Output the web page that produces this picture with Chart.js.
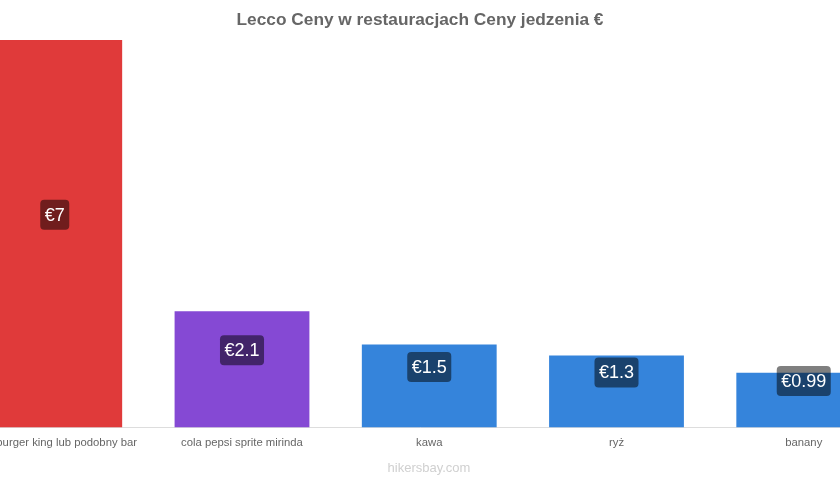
<!DOCTYPE html>
<html>
<head>
<meta charset="utf-8">
<script src="https://cdn.jsdelivr.net/npm/chart.js@4.4.1/dist/chart.umd.min.js"></script>
<style>
    html, body { margin: 0; padding: 0; background: #ffffff; }
    #wrap { width: 840px; height: 480px; }
</style>
</head>
<body>
<div id="wrap"><canvas id="chart"></canvas></div>
<script>
const categories = ['Tani burger king lub podobny bar', 'cola pepsi sprite mirinda', 'kawa', 'ryż', 'banany'];
const prices = [7, 2.1, 1.5, 1.3, 0.99];
const priceLabels = ['€7', '€2.1', '€1.5', '€1.3', '€0.99'];
const barColors = ['#e03a3a', '#8549d4', '#3584db', '#3584db', '#3584db'];

// labels in a dark box, a bit above the middle of each bar
const barLabels = {
    id: 'barLabels',
    afterDatasetsDraw(chart) {
        const ctx = chart.ctx;
        const meta = chart.getDatasetMeta(0);
        ctx.save();
        ctx.font = '18px "Liberation Sans", Arial, sans-serif';
        ctx.textAlign = 'center';
        ctx.textBaseline = 'middle';
        meta.data.forEach((bar, i) => {
            const text = priceLabels[i];
            const cx = bar.x;
            const cy = (bar.y + bar.base) / 2 - 19;
            const w = ctx.measureText(text).width + 9;
            const h = 30;
            ctx.fillStyle = 'rgba(0, 0, 0, 0.5)';
            ctx.beginPath();
            ctx.roundRect(cx - w / 2, cy - h / 2, w, h, 4);
            ctx.fill();
            ctx.fillStyle = '#ffffff';
            ctx.fillText(text, cx, cy + 1);
        });
        ctx.restore();
    }
};

const watermark = {
    id: 'watermark',
    afterDraw(chart) {
        const ctx = chart.ctx;
        ctx.save();
        ctx.font = '13px "Liberation Sans", Arial, sans-serif';
        ctx.fillStyle = '#d0d0d0';
        ctx.textAlign = 'center';
        ctx.textBaseline = 'middle';
        ctx.fillText('hikersbay.com', 429, 468);
        ctx.restore();
    }
};

const ctx = document.getElementById('chart').getContext('2d');
const chart = new Chart(ctx, {
    type: 'bar',
    data: {
        datasets: [{
            label: 'Ceny',
            data: prices.map((v, i) => ({ x: i, y: v })),
            backgroundColor: barColors,
            borderWidth: 0
        }]
    },
    options: {
        responsive: true,
        maintainAspectRatio: false,
        animation: false,
        layout: {
            autoPadding: false,
            padding: { left: 0, right: 0, top: 0, bottom: 21 }
        },
        plugins: {
            legend: { display: false },
            tooltip: { enabled: false },
            title: {
                display: true,
                text: 'Lecco Ceny w restauracjach Ceny jedzenia €',
                color: '#666666',
                font: { family: '"Liberation Sans", Arial, sans-serif', size: 17.3, weight: 'bold' },
                padding: { top: 10, bottom: 9.3 }
            }
        },
        scales: {
            x: {
                type: 'linear',
                offset: false,
                min: -0.2924,
                max: 4.1936,
                grid: { display: false, drawTicks: false, offset: false },
                border: { display: true, color: '#dddddd' },
                afterBuildTicks: (axis) => {
                    axis.ticks = categories.map((_, i) => ({ value: i }));
                },
                afterFit: (axis) => {
                    axis.paddingLeft = 0;
                    axis.paddingRight = 0;
                },
                ticks: {
                    color: '#666666',
                    padding: 9,
                    maxRotation: 0,
                    autoSkip: false,
                    font: { family: '"Liberation Sans", Arial, sans-serif', size: 11.3 },
                    callback: (value) => categories[value]
                }
            },
            y: {
                display: false,
                min: 0,
                max: 7
            }
        }
    },
    plugins: [barLabels, watermark]
});
</script>
</body>
</html>
